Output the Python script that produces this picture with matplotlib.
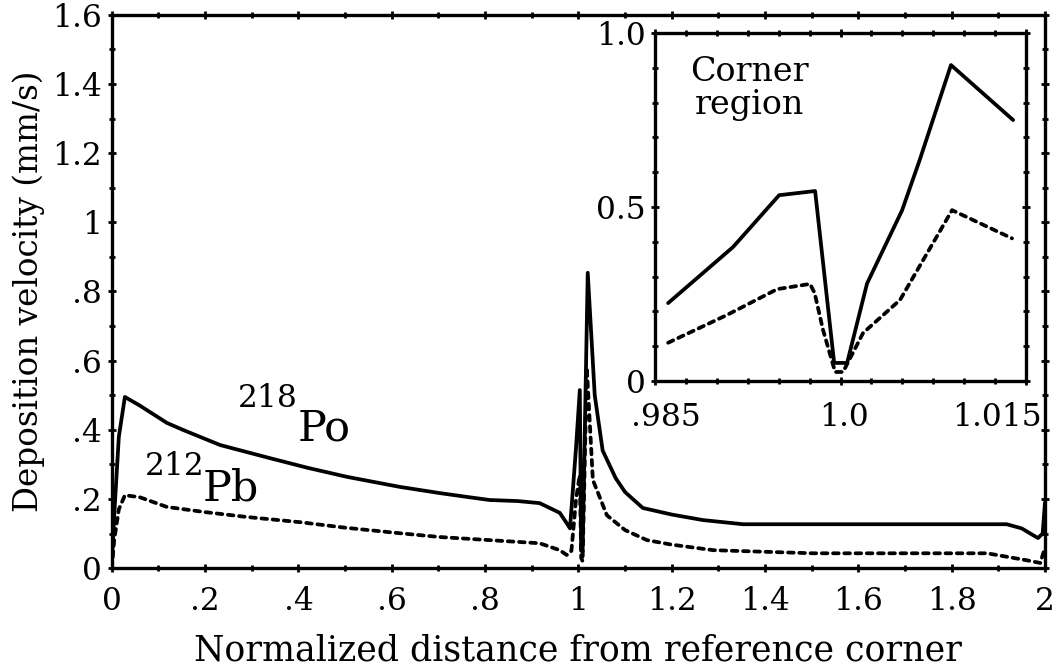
import matplotlib
matplotlib.use("Agg")
import matplotlib.pyplot as plt
import matplotlib.transforms as mtransforms
from matplotlib.ticker import MultipleLocator, FixedLocator, FixedFormatter, NullFormatter

# ---- data ----
po_x = [0, 0.005, 0.015, 0.028, 0.06, 0.118, 0.152, 0.232, 0.339, 0.42, 0.504, 0.617,
        0.703, 0.761, 0.81, 0.87, 0.917, 0.96, 0.975, 0.982, 0.995, 1.003, 1.006, 1.009,
        1.02, 1.035, 1.052, 1.08, 1.10, 1.138, 1.2, 1.267, 1.353, 1.54, 1.7, 1.918,
        1.95, 1.985, 1.995, 2.0]
po_y = [0.02, 0.15, 0.38, 0.495, 0.47, 0.42, 0.40, 0.356, 0.318, 0.29, 0.264, 0.235,
        0.217, 0.206, 0.197, 0.194, 0.188, 0.16, 0.13, 0.115, 0.35, 0.515, 0.05, 0.05,
        0.854, 0.5, 0.34, 0.26, 0.22, 0.174, 0.155, 0.139, 0.127, 0.127, 0.127, 0.127,
        0.115, 0.087, 0.1, 0.19]

pb_x = [0, 0.005, 0.015, 0.028, 0.06, 0.118, 0.2, 0.289, 0.403, 0.5, 0.617, 0.703,
        0.81, 0.917, 0.96, 0.975, 0.985, 0.995, 1.003, 1.006, 1.009, 1.018, 1.031,
        1.061, 1.1, 1.147, 1.2, 1.289, 1.432, 1.503, 1.7, 1.876, 1.96, 1.99, 2.0]
pb_y = [0.0, 0.08, 0.17, 0.211, 0.205, 0.177, 0.162, 0.148, 0.133, 0.117, 0.101, 0.09,
        0.081, 0.072, 0.052, 0.038, 0.05, 0.2, 0.27, 0.03, 0.02, 0.58, 0.255,
        0.153, 0.11, 0.081, 0.068, 0.052, 0.046, 0.043, 0.043, 0.043, 0.023, 0.015, 0.06]

ins_po_x = [0.98605, 0.9913, 0.99503, 0.99794, 0.99948, 1.00053, 1.00214, 1.00497,
            1.0064, 1.00893, 1.01396]
ins_po_y = [0.224, 0.385, 0.534, 0.546, 0.052, 0.052, 0.28, 0.49, 0.635, 0.908, 0.75]

ins_pb_x = [0.98605, 0.99082, 0.99487, 0.99753, 0.9979, 0.99858, 0.99956, 1.0002,
            1.00182, 1.00481, 1.00902, 1.01387]
ins_pb_y = [0.11, 0.19, 0.264, 0.279, 0.253, 0.147, 0.026, 0.026, 0.138, 0.233,
            0.491, 0.41]

main_xticks = [0, 0.2, 0.4, 0.6, 0.8, 1.0, 1.2, 1.4, 1.6, 1.8, 2.0]
main_xlabels = ['0', '.2', '.4', '.6', '.8', '1', '1.2', '1.4', '1.6', '1.8', '2']
main_yticks = [0, 0.2, 0.4, 0.6, 0.8, 1.0, 1.2, 1.4, 1.6]
main_ylabels = ['0', '.2', '.4', '.6', '.8', '1', '1.2', '1.4', '1.6']
ins_xticks = [0.985, 1.0, 1.015]
ins_xlabels = ['.985', '1.0', '1.015']
ins_yticks = [0, 0.5, 1.0]
ins_ylabels = ['0', '0.5', '1.0']

FONT = 'DejaVu Serif'
plt.rcParams['font.family'] = [FONT]

fig = plt.figure(figsize=(10.55, 6.7), dpi=100)
ax = fig.add_axes([0.106, 0.152, 0.8845, 0.826])

LW = 2.7
DASH = (0, (1.5, 1.5))
TICKFS = 22.5

def style_axes(a, fs):
    for s in a.spines.values():
        s.set_linewidth(2.4)
        s.set_color('black')
    a.tick_params(which='both', direction='inout', top=True, right=True,
                  width=2.0, labelsize=fs, colors='black')
    a.tick_params(which='major', length=6)
    a.tick_params(which='minor', length=5)

ax.plot(po_x, po_y, color='black', lw=LW, solid_joinstyle='round', solid_capstyle='round')
ax.plot(pb_x, pb_y, color='black', lw=LW, linestyle=DASH, dash_capstyle='round')
ax.set_xlim(0, 2)
ax.set_ylim(0, 1.6)
ax.xaxis.set_major_locator(FixedLocator(main_xticks))
ax.xaxis.set_major_formatter(FixedFormatter(main_xlabels))
ax.yaxis.set_major_locator(FixedLocator(main_yticks))
ax.yaxis.set_major_formatter(FixedFormatter(main_ylabels))
ax.xaxis.set_minor_locator(MultipleLocator(0.1))
ax.yaxis.set_minor_locator(MultipleLocator(0.1))
style_axes(ax, TICKFS)
ax.tick_params(axis='x', which='major', pad=10)
ax.tick_params(axis='y', which='major', pad=4)
ax.set_xlabel('Normalized distance from reference corner', fontsize=25, labelpad=12)
ax.set_ylabel('Deposition velocity (mm/s)', fontsize=23.5, labelpad=5)

ax.text(0.27, 0.466, '218', fontsize=22.5, ha='left', va='baseline')
ax.text(0.399, 0.37, 'Po', fontsize=31, ha='left', va='baseline')
ax.text(0.071, 0.269, '212', fontsize=22.5, ha='left', va='baseline')
ax.text(0.195, 0.197, 'Pb', fontsize=31, ha='left', va='baseline')

ins = fig.add_axes([0.621, 0.4313, 0.3515, 0.5194])
ins.plot(ins_po_x, ins_po_y, color='black', lw=LW, solid_joinstyle='round', solid_capstyle='round')
ins.plot(ins_pb_x, ins_pb_y, color='black', lw=LW, linestyle=DASH, dash_capstyle='round')
ins.set_xlim(0.985, 1.015)
ins.set_ylim(0, 1.0)
ins.xaxis.set_major_locator(FixedLocator(ins_xticks))
ins.xaxis.set_major_formatter(NullFormatter())
ins.yaxis.set_major_locator(FixedLocator(ins_yticks))
ins.yaxis.set_major_formatter(FixedFormatter(ins_ylabels))
ins.xaxis.set_minor_locator(MultipleLocator(0.0025))
ins.yaxis.set_minor_locator(MultipleLocator(0.1))
style_axes(ins, TICKFS)
ins.tick_params(axis='y', which='major', pad=4)

# inset x tick labels, nudged as in the reference (first right, last left)
blend = mtransforms.blended_transform_factory(ins.transData, ins.transAxes)
nudges_px = [11, 3, -29]
for xv, lab, dx in zip(ins_xticks, ins_xlabels, nudges_px):
    tr = blend + mtransforms.ScaledTranslation(dx / 100.0, -21 / 100.0, fig.dpi_scale_trans)
    ins.text(xv, 0, lab, transform=tr, fontsize=TICKFS, ha='center', va='top')

ins.text(0.253, 0.935, 'Corner\nregion', transform=ins.transAxes, fontsize=24,
         ha='center', va='top', multialignment='center', linespacing=1.05)

fig.savefig('out.png', dpi=100)
